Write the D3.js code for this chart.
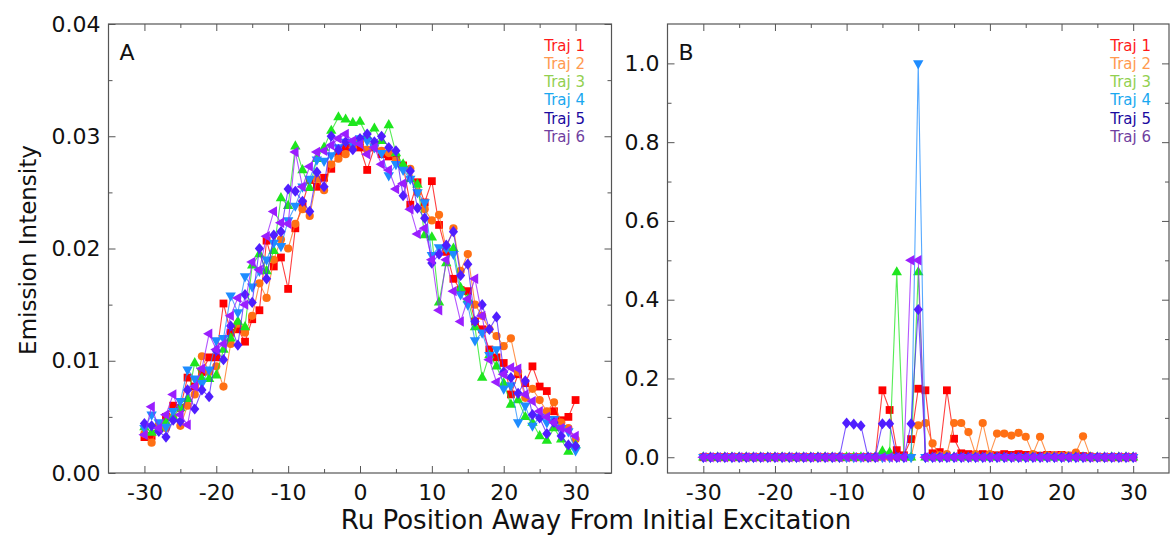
<!DOCTYPE html>
<html>
<head>
<meta charset="utf-8">
<script src="https://cdn.jsdelivr.net/npm/d3@7"></script>
<style>
  body { margin: 0; background: #fff; }
  svg { display: block; }
  text { font-family: "DejaVu Sans", Verdana, sans-serif; }
</style>
</head>
<body>
<svg id="chart" width="1171" height="536"></svg>
<script>
// Ru site index relative to the initially excited site
const positions = [-30,-29,-28,-27,-26,-25,-24,-23,-22,-21,-20,-19,-18,-17,-16,-15,-14,-13,-12,-11,
  -10,-9,-8,-7,-6,-5,-4,-3,-2,-1,0,1,2,3,4,5,6,7,8,9,10,11,12,13,14,15,16,17,18,19,20,21,22,23,24,25,26,27,28,29,30];

const trajNames = ["Traj 1", "Traj 2", "Traj 3", "Traj 4", "Traj 5", "Traj 6"];

// Panel A: emission intensity per site
const trajA1 = [.0032,.0033,.0040,.0050,.0060,.0058,.0085,.0077,.0090,.0103,
  .0103,.0151,.0125,.0128,.0117,.0137,.0145,.0207,.0184,.0192,
  .0164,.0218,.0240,.0261,.0255,.0263,.0271,.0285,.0290,.0293,
  .0290,.0270,.0290,.0284,.0282,.0280,.0274,.0239,.0259,.0241,
  .0260,.0221,.0197,.0173,.0163,.0162,.0135,.0128,.0110,.0103,
  .0098,.0070,.0088,.0080,.0095,.0077,.0073,.0055,.0047,.0050,
  .0065];
const trajA2 = [.0035,.0027,.0043,.0040,.0050,.0042,.0060,.0070,.0104,.0090,
  .0095,.0077,.0115,.0133,.0125,.0140,.0169,.0156,.0190,.0208,
  .0200,.0222,.0235,.0229,.0262,.0252,.0275,.0280,.0284,.0290,
  .0295,.0288,.0292,.0287,.0285,.0278,.0272,.0271,.0250,.0235,
  .0225,.0230,.0200,.0218,.0180,.0195,.0150,.0140,.0128,.0122,
  .0113,.0120,.0090,.0067,.0075,.0065,.0055,.0063,.0045,.0040,
  .0030];
const trajA3 = [.0041,.0036,.0040,.0045,.0050,.0058,.0066,.0098,.0084,.0084,
  .0087,.0110,.0120,.0135,.0130,.0185,.0195,.0180,.0198,.0245,
  .0238,.0291,.0270,.0254,.0280,.0290,.0305,.0317,.0315,.0312,
  .0313,.0300,.0307,.0296,.0310,.0285,.0275,.0262,.0257,.0212,
  .0210,.0152,.0187,.0200,.0165,.0155,.0130,.0085,.0105,.0095,
  .0080,.0061,.0065,.0050,.0045,.0033,.0029,.0040,.0030,.0019,
  .0025];
const trajA4 = [.0040,.0052,.0045,.0041,.0055,.0064,.0092,.0084,.0080,.0092,
  .0118,.0120,.0158,.0143,.0175,.0166,.0180,.0190,.0205,.0202,
  .0225,.0238,.0255,.0262,.0279,.0278,.0283,.0290,.0295,.0293,
  .0298,.0296,.0290,.0285,.0265,.0275,.0270,.0262,.0250,.0241,
  .0194,.0201,.0200,.0195,.0159,.0150,.0118,.0125,.0105,.0110,
  .0075,.0078,.0045,.0060,.0042,.0050,.0045,.0048,.0040,.0037,
  .0020];
const trajA5 = [.0044,.0042,.0037,.0032,.0047,.0046,.0074,.0057,.0074,.0068,
  .0109,.0101,.0131,.0114,.0159,.0152,.0200,.0173,.0212,.0215,
  .0253,.0251,.0242,.0233,.0268,.0255,.0300,.0288,.0295,.0288,
  .0298,.0302,.0295,.0300,.0290,.0287,.0247,.0269,.0236,.0227,
  .0187,.0195,.0203,.0215,.0176,.0186,.0135,.0150,.0128,.0139,
  .0090,.0085,.0071,.0082,.0052,.0049,.0035,.0045,.0033,.0025,
  .0024];
const trajA6 = [.0034,.0059,.0040,.0052,.0070,.0052,.0043,.0077,.0093,.0124,
  .0110,.0115,.0140,.0156,.0150,.0188,.0181,.0211,.0233,.0223,
  .0222,.0286,.0255,.0273,.0286,.0287,.0292,.0298,.0302,.0296,
  .0293,.0284,.0290,.0275,.0270,.0253,.0258,.0235,.0213,.0218,
  .0190,.0145,.0190,.0162,.0135,.0155,.0173,.0140,.0101,.0081,
  .0088,.0094,.0093,.0070,.0064,.0055,.0050,.0045,.0040,.0038,
  .0033];

// Panel B: emission intensity per site
const trajB1 = [0,0,0,0,0,0,0,0,0,0,
  0,0,0,0,0,0,0,0,0,0,
  0,0,0,0,0,.170,.120,.018,.005,.046,
  .174,.170,.010,.013,.170,.047,.010,.008,.006,.008,
  .006,.005,.008,.006,.008,.006,.005,.004,.006,.005,
  .006,.004,.005,.003,0,0,0,0,0,0,
  0];
const trajB2 = [0,0,0,0,0,0,0,0,0,0,
  0,0,0,0,0,0,0,0,0,0,
  0,0,0,0,0,0,0,0,0,0,
  .081,.087,.035,.005,.008,.087,.087,.064,.008,.087,
  .008,.060,.060,.055,.062,.052,.008,.052,.005,.004,
  .005,.004,.012,.053,.003,0,0,0,0,0,
  0];
const trajB3 = [0,0,0,0,0,0,0,0,0,0,
  0,0,0,0,0,0,0,0,0,0,
  0,0,0,0,0,.015,.012,.470,0,0,
  .470,0,0,0,0,0,0,0,0,0,
  0,0,0,0,0,0,0,0,0,0,
  0,0,0,0,0,0,0,0,0,0,
  0];
const trajB4 = [0,0,0,0,0,0,0,0,0,0,
  0,0,0,0,0,0,0,0,0,0,
  0,0,0,0,0,0,0,0,0,0,
  1.0,0,0,0,0,0,0,0,0,0,
  0,0,0,0,0,0,0,0,0,0,
  0,0,0,0,0,0,0,0,0,0,
  0];
const trajB5 = [0,0,0,0,0,0,0,0,0,0,
  0,0,0,0,0,0,0,0,0,0,
  .087,.084,.080,0,0,.085,.085,0,0,.085,
  .375,0,0,0,0,0,0,0,0,0,
  0,0,0,0,0,0,0,0,0,0,
  0,0,0,0,0,0,0,0,0,0,
  0];
const trajB6 = [0,0,0,0,0,0,0,0,0,0,
  0,0,0,0,0,0,0,0,0,0,
  0,0,0,0,0,0,0,0,0,.500,
  .500,0,0,0,0,0,0,0,0,0,
  0,0,0,0,0,0,0,0,0,0,
  0,0,0,0,0,0,0,0,0,0,
  0];

const xTicks = [-30, -20, -10, 0, 10, 20, 30];
const xMinor = [-35, -25, -15, -5, 5, 15, 25, 35];
const yTicksA = [0, 0.01, 0.02, 0.03, 0.04];
const yMinorA = [0.005, 0.015, 0.025, 0.035];
const yTicksB = [0, 0.2, 0.4, 0.6, 0.8, 1.0];
const yMinorB = [0.1, 0.3, 0.5, 0.7, 0.9];

const markerColors = ["#ff0000", "#ff7014", "#1ee61e", "#1e8cff", "#501eff", "#9a1eff"];
const legendColors = ["#ff1a1a", "#ff9a50", "#92d050", "#1aa8f0", "#1a0aa0", "#7040a0"];

// marker shapes: square, circle, up/down/left triangle, diamond
const shapes = [
  { draw(c) { c.rect(-3.9, -3.9, 7.8, 7.8); } },
  { draw(c) { c.moveTo(4.1, 0); c.arc(0, 0, 4.1, 0, 2 * Math.PI); } },
  { draw(c) { c.moveTo(0, -6); c.lineTo(5.2, 3.2); c.lineTo(-5.2, 3.2); c.closePath(); } },
  { draw(c) { c.moveTo(0, 6); c.lineTo(5.2, -3.2); c.lineTo(-5.2, -3.2); c.closePath(); } },
  { draw(c) { c.moveTo(0, -5.6); c.lineTo(4.6, 0); c.lineTo(0, 5.6); c.lineTo(-4.6, 0); c.closePath(); } },
  { draw(c) { c.moveTo(-6, 0); c.lineTo(3.2, -5.2); c.lineTo(3.2, 5.2); c.closePath(); } }
];

const svg = d3.select("#chart");
const frameColor = "#555";

function drawPanel(opts) {
  const { x, y, series, yTicks, yMinor, yFmt, letter } = opts;
  const [x0, x1] = x.range();
  const [y0, y1] = y.range();
  const g = svg.append("g");

  // data lines and markers
  series.forEach((vals, i) => {
    const pts = positions.map((p, k) => [p, vals[k]]);
    g.append("path")
      .datum(pts)
      .attr("fill", "none")
      .attr("stroke", markerColors[i])
      .attr("stroke-opacity", 0.75)
      .attr("stroke-width", 1.1)
      .attr("d", d3.line().x(d => x(d[0])).y(d => y(d[1])));
    const sym = d3.symbol().type(shapes[i]);
    g.append("g").selectAll("path")
      .data(pts)
      .join("path")
      .attr("transform", d => `translate(${x(d[0])},${y(d[1])})`)
      .attr("fill", markerColors[i])
      .attr("d", sym);
  });

  // axes with inward ticks on all four sides
  const styleAxis = sel => {
    sel.select(".domain").remove();
    sel.selectAll("line").attr("stroke", frameColor);
    sel.selectAll("text").attr("font-size", 22).attr("fill", "#111");
  };
  const minorX = xMinor.filter(v => x(v) > x0 + 1 && x(v) < x1 - 1);
  g.append("g").attr("transform", `translate(0,${y0})`)
    .call(d3.axisBottom(x).tickValues(xTicks).tickSize(-7).tickPadding(11).tickFormat(d => String(d)))
    .call(styleAxis);
  g.append("g").attr("transform", `translate(0,${y0})`)
    .call(d3.axisBottom(x).tickValues(minorX).tickSize(-4).tickFormat(""))
    .call(styleAxis);
  g.append("g").attr("transform", `translate(0,${y1})`)
    .call(d3.axisTop(x).tickValues(xTicks).tickSize(-7).tickFormat(""))
    .call(styleAxis);
  g.append("g").attr("transform", `translate(0,${y1})`)
    .call(d3.axisTop(x).tickValues(minorX).tickSize(-4).tickFormat(""))
    .call(styleAxis);
  g.append("g").attr("transform", `translate(${x0},0)`)
    .call(d3.axisLeft(y).tickValues(yTicks).tickSize(-7).tickPadding(8).tickFormat(yFmt))
    .call(styleAxis);
  g.append("g").attr("transform", `translate(${x0},0)`)
    .call(d3.axisLeft(y).tickValues(yMinor).tickSize(-4).tickFormat(""))
    .call(styleAxis);
  g.append("g").attr("transform", `translate(${x1},0)`)
    .call(d3.axisRight(y).tickValues(yTicks).tickSize(-7).tickFormat(""))
    .call(styleAxis);
  g.append("g").attr("transform", `translate(${x1},0)`)
    .call(d3.axisRight(y).tickValues(yMinor).tickSize(-4).tickFormat(""))
    .call(styleAxis);

  // frame
  g.append("rect")
    .attr("x", x0).attr("y", y1)
    .attr("width", x1 - x0).attr("height", y0 - y1)
    .attr("fill", "none").attr("stroke", frameColor).attr("stroke-width", 1.2);

  // panel letter
  g.append("text")
    .attr("x", x0 + 11).attr("y", y1 + 36)
    .attr("font-size", 22).attr("fill", "#111")
    .text(letter);

  // legend
  const leg = g.append("g");
  trajNames.forEach((name, i) => {
    leg.append("text")
      .attr("x", opts.legendX).attr("y", 50.5 + i * 18.3)
      .attr("text-anchor", "end")
      .attr("font-size", 15)
      .attr("fill", legendColors[i])
      .text(name);
  });
}

const xA = d3.scaleLinear().domain([-35, 35]).range([108.5, 611.5]);
const yA = d3.scaleLinear().domain([0, 0.04]).range([473, 24]);
const xB = d3.scaleLinear().domain([-35, 35]).range([667.5, 1169]);
const yB = d3.scaleLinear().domain([-0.04, 1.1]).range([473, 24]);

drawPanel({
  x: xA, y: yA,
  series: [trajA1, trajA2, trajA3, trajA4, trajA5, trajA6],
  yTicks: yTicksA, yMinor: yMinorA, yFmt: d3.format(".2f"),
  letter: "A", legendX: 585
});
drawPanel({
  x: xB, y: yB,
  series: [trajB1, trajB2, trajB3, trajB4, trajB5, trajB6],
  yTicks: yTicksB, yMinor: yMinorB, yFmt: d3.format(".1f"),
  letter: "B", legendX: 1151
});

// shared axis titles
svg.append("text")
  .attr("x", 596).attr("y", 529)
  .attr("text-anchor", "middle")
  .attr("font-size", 26).attr("fill", "#111")
  .text("Ru Position Away From Initial Excitation");
svg.append("text")
  .attr("transform", "translate(36,250) rotate(-90)")
  .attr("text-anchor", "middle")
  .attr("font-size", 23).attr("fill", "#111")
  .text("Emission Intensity");
</script>
</body>
</html>
